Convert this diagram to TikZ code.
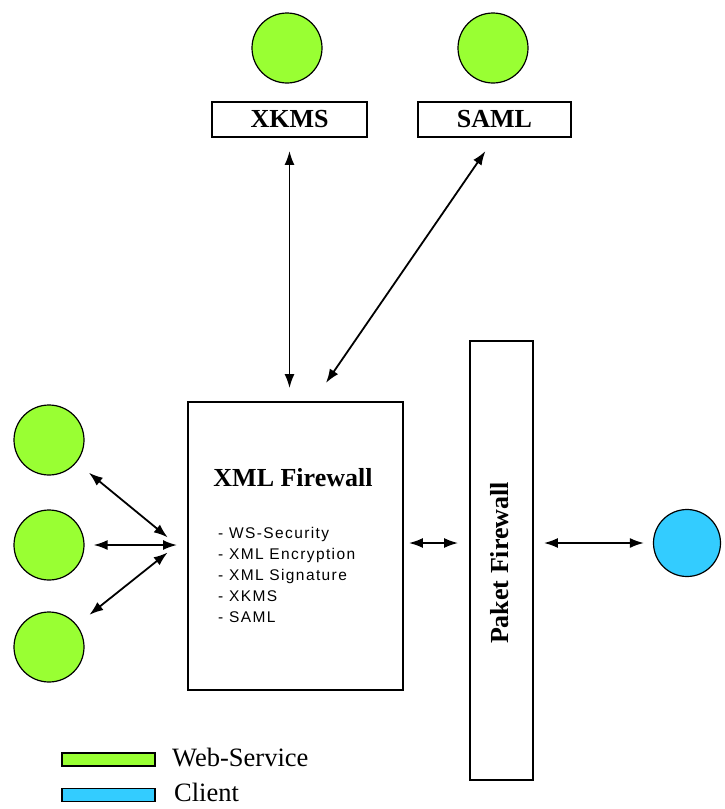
\documentclass[tikz,border=0pt]{standalone}
\usepackage{fontspec}
\setmainfont{Liberation Serif}
\newfontfamily\listfont[LetterSpace=9]{Liberation Sans}
\usetikzlibrary{arrows.meta}
\definecolor{wsgreen}{HTML}{99FF33}
\definecolor{clblue}{HTML}{33CCFF}

\begin{document}
\begin{tikzpicture}[x=1pt, y=-1pt]
  \useasboundingbox (0,0) rectangle (724,809);
  \tikzset{
    svc/.style={circle, draw, line width=1.2pt, minimum size=70pt, inner sep=0pt},
    box/.style={draw, line width=1.8pt, inner sep=0pt},
    title/.style={font=\fontsize{26}{26}\selectfont\bfseries},
    link/.style={{Latex[length=14pt,width=10pt]}-{Latex[length=14pt,width=10pt]}, line width=1.8pt},
  }

  % ---- trust services at the top -------------------------------------------
  \node[svc, fill=wsgreen] (xkmsws) at (287,48) {};
  \node[svc, fill=wsgreen] (samlws) at (493,48) {};
  \node[box, title, minimum width=155pt, minimum height=35pt] (xkms) at (289.5,119.5) {XKMS};
  \node[box, title, minimum width=153pt, minimum height=35pt] (saml) at (494.5,119.5) {SAML};

  % ---- the two firewalls ---------------------------------------------------
  \node[box, minimum width=215pt, minimum height=288pt] (xmlfw) at (295.5,546) {};
  \node[title] (fwtitle) at (293,478) {XML Firewall};
  \node[anchor=north west, align=left, inner sep=0pt,
        font=\listfont\fontsize{15.5}{21}\selectfont] (fwlist) at (218,527)
    {- WS-Security\\ - XML Encryption\\ - XML Signature\\ - XKMS\\ - SAML};
  \node[box, minimum width=63pt, minimum height=439pt] (paket) at (501.5,560.5) {};
  \node[title, rotate=90] (pktitle) at (500,563) {Paket Firewall};

  % ---- web services on the left, client on the right -----------------------
  \foreach \n/\yy in {ws1/440, ws2/545, ws3/647}
    \node[svc, fill=wsgreen] (\n) at (49,\yy) {};
  \node[svc, fill=clblue, minimum size=67pt] (client) at (687,543) {};
  \coordinate (hub) at (177,545);

  % ---- connectors ----------------------------------------------------------
  \draw[link, shorten <=13pt, shorten >=13pt] (xkms.south) -- (xkms.south |- xmlfw.north);
  \draw[link, shorten <=16pt, shorten >=22pt] (saml.south) -- ([xshift=18pt]xmlfw.north);
  \draw[link, shorten <=16pt, shorten >=12pt] (ws1) -- (hub);
  \draw[link, shorten <=9pt] (ws2) -- (hub);
  \draw[link, shorten <=16pt, shorten >=12pt] (ws3) -- (hub);
  \draw[link, shorten <=5pt, shorten >=11pt] (xmlfw.east |- client) -- (paket.west |- client);
  \draw[link, shorten <=10pt, shorten >=9pt] (paket.east |- client) -- (client);

  % ---- legend --------------------------------------------------------------
  \node[draw, line width=1.6pt, fill=wsgreen, minimum width=93pt, minimum height=13pt,
        inner sep=0pt] (keyws) at (108.5,759.5) {};
  \node[draw, line width=1.6pt, fill=clblue, minimum width=93pt, minimum height=13pt,
        inner sep=0pt] (keycl) at (108.5,795) {};
  \node[anchor=west, font=\fontsize{26.5}{26.5}\selectfont, inner sep=0pt] (keywstxt) at (172,757) {Web-Service};
  \node[anchor=west, font=\fontsize{26.5}{26.5}\selectfont, inner sep=0pt] (keycltxt) at (174,792) {Client};
\end{tikzpicture}
\end{document}
